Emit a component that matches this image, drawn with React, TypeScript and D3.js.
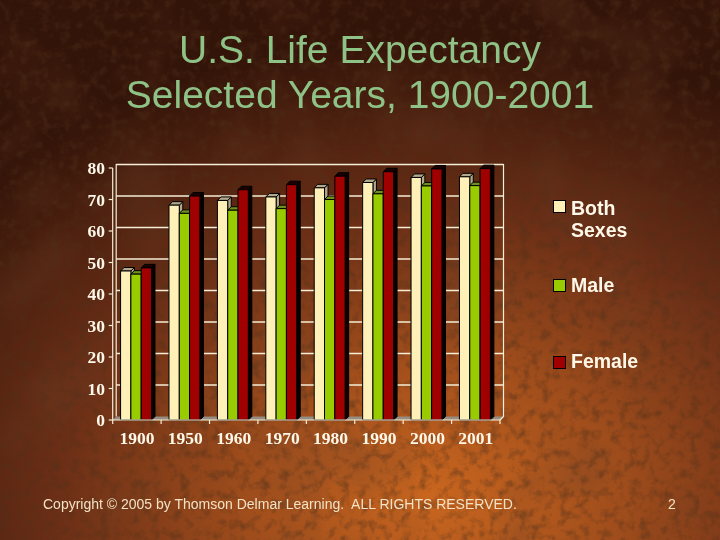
import * as d3 from 'd3';

const YEARS = ['1900', '1950', '1960', '1970', '1980', '1990', '2000', '2001'];
const BOTH_SEXES = [47.3, 68.2, 69.7, 70.8, 73.7, 75.4, 77.0, 77.2];
const MALE = [46.3, 65.6, 66.6, 67.1, 70.0, 71.8, 74.3, 74.4];
const FEMALE = [48.3, 71.1, 73.1, 74.7, 77.4, 78.8, 79.7, 79.8];
const Y_TICKS = [0, 10, 20, 30, 40, 50, 60, 70, 80];
const SERIES = ['Both Sexes', 'Male', 'Female'];

const W = 720;
const H = 540;
const DEPTH = 3.5;

// front face colour, top face colour, side face colour
const FILLS: Record<string, [string, string, string]> = {
  'Both Sexes': ['#fff0b8', '#b3a88c', '#b3a88c'],
  Male: ['#99cc00', '#6f8f1e', '#4d6410'],
  Female: ['#a00000', '#1a0000', '#0a0000'],
};

export default function App() {
  const x = d3.scaleBand<string>().domain(YEARS).range([112.7, 500]);
  const inner = d3
    .scaleBand<string>()
    .domain(SERIES)
    .range([0, x.bandwidth()])
    .paddingOuter(0.85)
    .align(0.45);
  const y = d3.scaleLinear().domain([0, 80]).range([420, 168]);
  const left = x.range()[0];
  const right = x.range()[1];

  const values: Record<string, number[]> = {
    'Both Sexes': BOTH_SEXES,
    Male: MALE,
    Female: FEMALE,
  };

  const bw = inner.bandwidth();

  return (
    <svg width={W} height={H} style={{ position: 'fixed', left: 0, top: 0 }}>
      <defs>
        <radialGradient id="bg" cx="0.6" cy="0.92" r="0.85">
          <stop offset="0" stopColor="#c9661f" />
          <stop offset="0.3" stopColor="#a14e1c" />
          <stop offset="0.62" stopColor="#6a2e16" />
          <stop offset="1" stopColor="#331409" />
        </radialGradient>
        <filter id="grain" x="0" y="0" width="100%" height="100%">
          <feTurbulence type="fractalNoise" baseFrequency="0.1" numOctaves={5} seed={7} result="n" />
          <feColorMatrix
            in="n"
            type="matrix"
            values="0 0 0 0 0.08  0 0 0 0 0.03  0 0 0 0 0.01  0 0 0 -2.4 1.3"
          />
        </filter>
        <filter id="mottle" x="0" y="0" width="100%" height="100%">
          <feTurbulence type="fractalNoise" baseFrequency="0.012" numOctaves={3} seed={2} result="m" />
          <feColorMatrix
            in="m"
            type="matrix"
            values="0 0 0 0 0.15  0 0 0 0 0.05  0 0 0 0 0.02  0 0 0 -1.8 0.95"
          />
        </filter>
      </defs>

      {/* leather background */}
      <rect width={W} height={H} fill="url(#bg)" />
      <rect width={W} height={H} filter="url(#mottle)" opacity={0.45} />
      <rect width={W} height={H} filter="url(#grain)" opacity={0.5} />

      {/* title */}
      <g fill="#8ec286" fontFamily="'Liberation Sans', Arial, sans-serif" fontSize={39} textAnchor="middle">
        <text x={360} y={63}>U.S. Life Expectancy</text>
        <text x={360} y={108}>Selected Years, 1900-2001</text>
      </g>

      {/* back wall, floor and gridlines */}
      <polygon
        points={`${left},${y(0)} ${right},${y(0)} ${right + DEPTH},${y(0) - DEPTH} ${left + DEPTH},${y(0) - DEPTH}`}
        fill="#968c80"
      />
      {Y_TICKS.filter(t => t > 0).map(t => (
        <line
          key={t}
          x1={left + DEPTH}
          x2={right + DEPTH}
          y1={y(t) - DEPTH}
          y2={y(t) - DEPTH}
          stroke="#f6eed6"
          strokeWidth={1.3}
        />
      ))}
      <polyline
        points={`${left + DEPTH},${y(0) - DEPTH} ${left + DEPTH},${y(80) - DEPTH} ${right + DEPTH},${y(80) - DEPTH} ${right + DEPTH},${y(0) - DEPTH} ${right},${y(0)}`}
        fill="none"
        stroke="#f6eed6"
        strokeWidth={1.2}
      />

      {/* bars */}
      {YEARS.map((yr, i) => (
        <g key={yr}>
          {SERIES.map(s => {
            const v = values[s][i];
            const x0 = (x(yr) ?? 0) + (inner(s) ?? 0);
            const x1 = x0 + bw;
            const y0 = y(0);
            const y1 = y(v);
            const [front, top, side] = FILLS[s];
            return (
              <g key={s} stroke="#000" strokeWidth={1} strokeLinejoin="round">
                <polygon
                  points={`${x1},${y0} ${x1 + DEPTH},${y0 - DEPTH} ${x1 + DEPTH},${y1 - DEPTH} ${x1},${y1}`}
                  fill={side}
                />
                <polygon
                  points={`${x0},${y1} ${x0 + DEPTH},${y1 - DEPTH} ${x1 + DEPTH},${y1 - DEPTH} ${x1},${y1}`}
                  fill={top}
                />
                <rect x={x0} y={y1} width={bw} height={y0 - y1} fill={front} />
              </g>
            );
          })}
        </g>
      ))}

      {/* axes */}
      <g stroke="#f6eed6" strokeWidth={1.2}>
        <line x1={left} x2={left} y1={y(80)} y2={y(0)} />
        <line x1={left} x2={right} y1={y(0)} y2={y(0)} />
        {Y_TICKS.map(t => (
          <line key={t} x1={left - 4} x2={left} y1={y(t)} y2={y(t)} />
        ))}
        {YEARS.map(yr => (
          <line key={yr} x1={x(yr) ?? 0} x2={x(yr) ?? 0} y1={y(0)} y2={y(0) + 4} />
        ))}
        <line x1={right} x2={right} y1={y(0)} y2={y(0) + 4} />
      </g>
      <g fill="#fff8e8" fontFamily="'Liberation Serif', 'Times New Roman', serif" fontWeight="bold" fontSize={17.5}>
        {Y_TICKS.map(t => (
          <text key={t} x={105} y={y(t)} dy="0.35em" textAnchor="end">
            {t}
          </text>
        ))}
        {YEARS.map(yr => (
          <text key={yr} x={(x(yr) ?? 0) + x.bandwidth() / 2} y={444} textAnchor="middle">
            {yr}
          </text>
        ))}
      </g>

      {/* legend */}
      <g fontFamily="'Liberation Sans', Arial, sans-serif" fontWeight="bold" fontSize={19.5} fill="#fff8e8">
        <rect x={553.5} y={200.5} width={12} height={12} fill={FILLS['Both Sexes'][0]} stroke="#000" />
        <text x={571} y={215}>Both</text>
        <text x={571} y={237}>Sexes</text>
        <rect x={553.5} y={279.5} width={12} height={12} fill={FILLS.Male[0]} stroke="#000" />
        <text x={571} y={292}>Male</text>
        <rect x={553.5} y={356.5} width={12} height={12} fill={FILLS.Female[0]} stroke="#000" />
        <text x={571} y={368}>Female</text>
      </g>

      {/* footer */}
      <g fontFamily="'Liberation Sans', Arial, sans-serif" fontSize={14} fill="#f3e2c4">
        <text x={43} y={509}>{'Copyright © 2005 by Thomson Delmar Learning.\u00a0 ALL RIGHTS RESERVED.'}</text>
        <text x={668} y={509}>2</text>
      </g>
    </svg>
  );
}
